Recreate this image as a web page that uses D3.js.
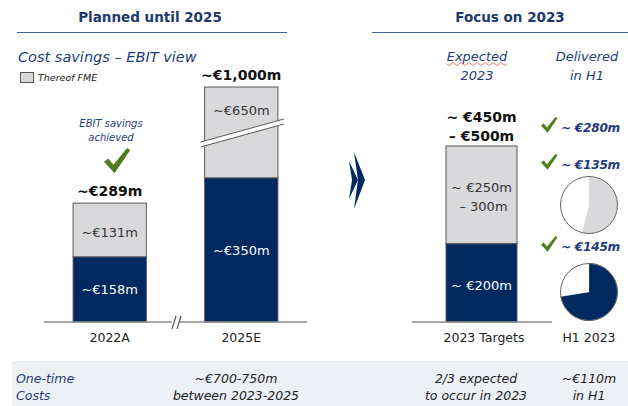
<!DOCTYPE html>
<html>
<head>
<meta charset="utf-8">
<script src="https://cdn.jsdelivr.net/npm/d3@7"></script>
<style>
  body { margin: 0; background: #fff; }
  text { font-family: "DejaVu Sans", Verdana, sans-serif; }
</style>
</head>
<body>
<script>
// left panel: planned until 2025
var categories = ["2022A", "2025E"];
var otherValues = [158, 350];        // navy part
var fmeValues = [131, 650];          // grey part (thereof FME)
var otherLabels = ["~€158m", "~€350m"];
var fmeLabels = ["~€131m", "~€650m"];
var totalLabels = ["~€289m", "~€1,000m"];

// right panel: focus on 2023
var targetCategory = ["2023 Targets"];
var targetOther = [200];
var targetFme = [250];               // 250-300, drawn at the low end
var targetOtherLabel = ["~ €200m"];
var targetFmeLabel = ["~ €250m", "– 300m"];
var targetTotalLabel = ["~ €450m", "– €500m"];

var deliveredLabels = ["~ €280m", "~ €135m", "~ €145m"];
var deliveredPies = [[135, 115], [145, 55]];   // delivered vs. remaining of target

var costLabels = [["One-time", "Costs"], ["~€700-750m", "between 2023-2025"], ["2/3 expected", "to occur in 2023"], ["~€110m", "in H1"]];

var navy = "#002960", grey = "#d9d9db", outline = "#595959",
	headBlue = "#1c3a6e", italBlue = "#1f3d7a", green = "#4e7d1e";

var svg = d3.select("body").append("svg")
	.attr("width", 628)
	.attr("height", 406);

//// headers
svg.append("text").attr("x", 150).attr("y", 22).attr("text-anchor", "middle")
	.style("font-weight", 700).style("font-size", "13.5px").style("fill", headBlue)
	.text("Planned until 2025");
svg.append("line").attr("x1", 17).attr("x2", 287).attr("y1", 32.5).attr("y2", 32.5)
	.style("stroke", "#3f63a0").style("stroke-width", 1.2);
svg.append("text").attr("x", 510).attr("y", 22).attr("text-anchor", "middle")
	.style("font-weight", 700).style("font-size", "13.5px").style("fill", headBlue)
	.text("Focus on 2023");
svg.append("line").attr("x1", 372).attr("x2", 628).attr("y1", 32.5).attr("y2", 32.5)
	.style("stroke", "#3f63a0").style("stroke-width", 1.2);

svg.append("text").attr("x", 18).attr("y", 62)
	.style("font-style", "italic").style("font-size", "14.5px").style("fill", italBlue)
	.text("Cost savings – EBIT view");

// legend
svg.append("rect").attr("x", 20.5).attr("y", 72.5).attr("width", 13).attr("height", 10)
	.style("fill", grey).style("stroke", outline);
svg.append("text").attr("x", 38).attr("y", 81)
	.style("font-style", "italic").style("font-size", "9.5px").style("fill", "#222")
	.text("Thereof FME");

//// left bars
var xScale = d3.scaleBand().domain(categories).range([44, 307])
	.paddingInner(0.443).paddingOuter(0.221);
// 650m top segment is compressed (axis break)
var yScale = d3.scaleLinear().domain([0, 350, 1000]).range([322, 178, 87]);

var bars = svg.selectAll(".bar").data(categories).enter().append("g").attr("class", "bar");
bars.append("rect")
	.attr("x", function(d) { return xScale(d); })
	.attr("width", xScale.bandwidth())
	.attr("y", function(d, i) { return yScale(otherValues[i] + fmeValues[i]); })
	.attr("height", function(d, i) { return yScale(otherValues[i]) - yScale(otherValues[i] + fmeValues[i]); })
	.style("fill", grey).style("stroke", outline).style("stroke-width", 1);
bars.append("rect")
	.attr("x", function(d) { return xScale(d); })
	.attr("width", xScale.bandwidth())
	.attr("y", function(d, i) { return yScale(otherValues[i]); })
	.attr("height", function(d, i) { return yScale(0) - yScale(otherValues[i]); })
	.style("fill", navy).style("stroke", outline).style("stroke-width", 1);
bars.append("text")
	.attr("x", function(d) { return xScale(d) + xScale.bandwidth() / 2; })
	.attr("y", function(d, i) { return i == 0 ? 237 : 115; })
	.attr("text-anchor", "middle").style("font-size", "13px").style("fill", "#333")
	.text(function(d, i) { return fmeLabels[i]; });
bars.append("text")
	.attr("x", function(d) { return xScale(d) + xScale.bandwidth() / 2; })
	.attr("y", function(d, i) { return (yScale(otherValues[i]) + yScale(0)) / 2 + 5; })
	.attr("text-anchor", "middle").style("font-size", "13px").style("fill", "#fff")
	.text(function(d, i) { return otherLabels[i]; });
bars.append("text")
	.attr("x", function(d) { return xScale(d) + xScale.bandwidth() / 2; })
	.attr("y", function(d, i) { return yScale(otherValues[i] + fmeValues[i]) - 7; })
	.attr("text-anchor", "middle").style("font-size", "14px").style("font-weight", 700).style("fill", "#111")
	.text(function(d, i) { return totalLabels[i]; });
bars.append("text")
	.attr("x", function(d) { return xScale(d) + xScale.bandwidth() / 2; })
	.attr("y", 342)
	.attr("text-anchor", "middle").style("font-size", "12.5px").style("fill", "#222")
	.text(function(d) { return d; });

// bar break on 2025E
var bx = xScale("2025E"), bw = xScale.bandwidth();
svg.append("path")
	.attr("d", "M" + (bx - 4) + ",142 L" + (bx + bw + 6) + ",119 L" + (bx + bw + 6) + ",124 L" + (bx - 4) + ",147 Z")
	.style("fill", "#fff");
svg.append("path")
	.attr("d", "M" + (bx - 4) + ",142 L" + (bx + bw + 6) + ",119 M" + (bx - 4) + ",147 L" + (bx + bw + 6) + ",124")
	.style("stroke", outline).style("stroke-width", 1).style("fill", "none");

// baseline with break
svg.append("line").attr("x1", 44).attr("x2", 307).attr("y1", 322).attr("y2", 322)
	.style("stroke", "#8c8c8c").style("stroke-width", 1.5);
svg.append("rect").attr("x", 172).attr("y", 318).attr("width", 8).attr("height", 8).style("fill", "#fff");
svg.append("path").attr("d", "M172,329 L176,316 M177,329 L181,316")
	.style("stroke", "#555").style("stroke-width", 1.2);

// EBIT savings achieved
svg.append("text").attr("x", 111).attr("y", 127).attr("text-anchor", "middle")
	.style("font-style", "italic").style("font-size", "10px").style("fill", italBlue)
	.text("EBIT savings");
svg.append("text").attr("x", 111).attr("y", 141).attr("text-anchor", "middle")
	.style("font-style", "italic").style("font-size", "10px").style("fill", italBlue)
	.text("achieved");

function check(x, y, s) {
	svg.append("path")
		.attr("transform", "translate(" + x + "," + y + ") scale(" + s + ")")
		.attr("d", "M0,13 L4,10 L9,16 L22,0 L25,2 L10,24 Z")
		.style("fill", green);
}
check(104, 148, 1.05);

//// chevron
svg.append("path").attr("d", "M349,161 L358,180 L349,199 L352,180 Z").style("fill", navy);
svg.append("path").attr("d", "M354,152 L365,180 L354,209 L358,180 Z").style("fill", navy);

//// right panel
svg.append("text").attr("x", 477).attr("y", 61).attr("text-anchor", "middle")
	.style("font-style", "italic").style("font-size", "13px").style("fill", italBlue)
	.text("Expected");
svg.append("text").attr("x", 477).attr("y", 80).attr("text-anchor", "middle")
	.style("font-style", "italic").style("font-size", "13px").style("fill", italBlue)
	.text("2023");
// spell-check squiggle under "Expected"
var sq = "M447,64";
for (var k = 0; k < 15; k++) { sq += " l2," + (k % 2 ? -1.5 : 1.5) + " l2," + (k % 2 ? 1.5 : -1.5); }
svg.append("path").attr("d", sq).style("fill", "none").style("stroke", "#e04040").style("stroke-width", 0.7);

svg.append("text").attr("x", 587).attr("y", 61).attr("text-anchor", "middle")
	.style("font-style", "italic").style("font-size", "13px").style("fill", italBlue)
	.text("Delivered");
svg.append("text").attr("x", 587).attr("y", 80).attr("text-anchor", "middle")
	.style("font-style", "italic").style("font-size", "13px").style("fill", italBlue)
	.text("in H1");

var xR = d3.scaleBand().domain(targetCategory).range([446, 517]);
var yR = d3.scaleLinear().domain([0, 450]).range([322, 146]);
var tx = xR(targetCategory[0]), tw = xR.bandwidth(), tc = tx + tw / 2;

svg.append("rect").attr("x", tx).attr("width", tw)
	.attr("y", yR(targetOther[0] + targetFme[0]))
	.attr("height", yR(targetOther[0]) - yR(targetOther[0] + targetFme[0]))
	.style("fill", grey).style("stroke", outline);
svg.append("rect").attr("x", tx).attr("width", tw)
	.attr("y", yR(targetOther[0]))
	.attr("height", yR(0) - yR(targetOther[0]))
	.style("fill", navy).style("stroke", outline);
svg.append("line").attr("x1", 412).attr("x2", 552).attr("y1", 322).attr("y2", 322)
	.style("stroke", "#8c8c8c").style("stroke-width", 1.5);

svg.append("text").attr("x", tc).attr("y", 192).attr("text-anchor", "middle")
	.style("font-size", "13px").style("fill", "#333").text(targetFmeLabel[0]);
svg.append("text").attr("x", tc + 2).attr("y", 211).attr("text-anchor", "middle")
	.style("font-size", "13px").style("fill", "#333").text(targetFmeLabel[1]);
svg.append("text").attr("x", tc).attr("y", 290).attr("text-anchor", "middle")
	.style("font-size", "13px").style("fill", "#fff").text(targetOtherLabel[0]);
svg.append("text").attr("x", tc).attr("y", 122).attr("text-anchor", "middle")
	.style("font-size", "14px").style("font-weight", 700).style("fill", "#111").text(targetTotalLabel[0]);
svg.append("text").attr("x", tc).attr("y", 141).attr("text-anchor", "middle")
	.style("font-size", "14px").style("font-weight", 700).style("fill", "#111").text(targetTotalLabel[1]);
svg.append("text").attr("x", 484).attr("y", 342).attr("text-anchor", "middle")
	.style("font-size", "12.5px").style("fill", "#222").text(targetCategory[0]);
svg.append("text").attr("x", 589).attr("y", 342).attr("text-anchor", "middle")
	.style("font-size", "12.5px").style("fill", "#222").text("H1 2023");

// delivered labels with checks
var delY = [132, 169, 251];
deliveredLabels.forEach(function(t, i) {
	check(541, delY[i] - 15, 0.66);
	svg.append("text").attr("x", 561).attr("y", delY[i])
		.style("font-size", "12.2px").style("font-weight", 700).style("font-style", "italic").style("fill", italBlue)
		.style("letter-spacing", "-0.3px")
		.text(t);
});

// pies
var pie = d3.pie().sort(null);
var arc = d3.arc().innerRadius(0).outerRadius(28.5);
var pieCenters = [[589, 205], [589, 292]];
var pieColors = [[grey, "#fff"], [navy, "#fff"]];
deliveredPies.forEach(function(vals, i) {
	var g = svg.append("g").attr("transform", "translate(" + pieCenters[i][0] + "," + pieCenters[i][1] + ")");
	g.selectAll("path").data(pie(vals)).enter().append("path")
		.attr("d", arc)
		.style("fill", function(d, j) { return pieColors[i][j]; })
		.style("stroke", function(d, j) { return j == 0 && i == 1 ? "#666" : "none"; })
		.style("stroke-width", 0.8);
	g.append("circle").attr("r", 28.5).style("fill", "none").style("stroke", "#666").style("stroke-width", 1);
});

//// one-time costs band
svg.append("rect").attr("x", 12).attr("y", 361).attr("width", 616).attr("height", 45).style("fill", "#edf0f5");
var costX = [16, 236, 476, 589];
costLabels.forEach(function(lines, i) {
	lines.forEach(function(l, j) {
		svg.append("text")
			.attr("x", costX[i]).attr("y", 383 + j * 17)
			.attr("text-anchor", i == 0 ? "start" : "middle")
			.style("font-style", "italic").style("font-size", "12.5px")
			.style("fill", i == 0 ? italBlue : "#222")
			.text(l);
	});
});
</script>
</body>
</html>
